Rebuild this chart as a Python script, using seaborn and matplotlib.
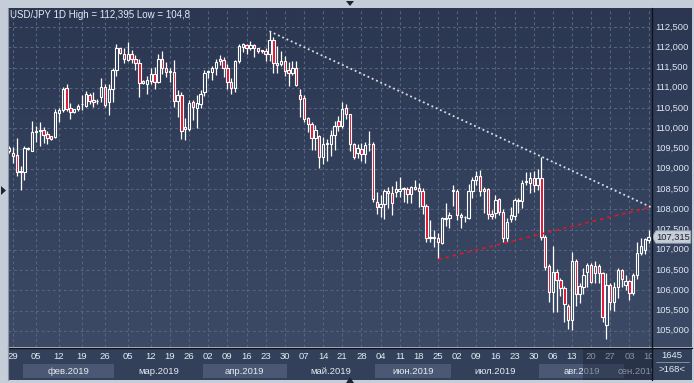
import numpy as np
import pandas as pd
import matplotlib
matplotlib.use('Agg')
import matplotlib.pyplot as plt
from matplotlib.colors import LinearSegmentedColormap
from matplotlib.patches import Rectangle, Polygon
import seaborn as sns

# ---------------- data ----------------
opens = [109.45, 109.38, 109.34, 108.95, 108.92, 109.49, 109.45, 109.90, 109.93, 109.96,
         109.85, 109.80, 109.78, 110.38, 110.45, 111.00, 110.50, 110.39, 110.47, 110.59,
         110.56, 110.82, 110.69, 110.67, 110.76, 111.02, 110.66, 110.98, 111.45, 111.97,
         111.83, 111.68, 111.84, 111.72, 111.62, 111.12, 111.09, 111.17, 111.34, 111.15,
         111.70, 111.48, 111.42, 111.39, 110.68, 110.82, 109.98, 109.98, 110.66, 110.51,
         110.61, 110.90, 111.38, 111.38, 111.48, 111.66, 111.68, 111.48, 111.13, 111.00,
         111.66, 112.01, 112.05, 111.99, 112.05, 111.97, 111.92, 111.91, 111.84, 112.19,
         111.62, 111.58, 111.66, 111.43, 111.37, 111.50, 110.81, 110.74, 110.25, 110.11,
         109.75, 109.80, 109.28, 109.60, 109.60, 109.83, 110.18, 110.06, 110.49, 110.34,
         109.60, 109.39, 109.50, 109.36, 109.60, 109.61, 108.17, 108.05, 108.12, 108.45,
         108.39, 108.43, 108.45, 108.49, 108.50, 108.37, 108.54, 108.52, 108.45, 108.08,
         107.29, 107.31, 107.28, 107.17, 107.79, 107.78, 108.47, 108.45, 107.87, 107.82,
         107.79, 108.46, 108.71, 108.83, 108.50, 108.50, 107.88, 107.90, 108.25, 107.92,
         107.28, 107.76, 107.83, 108.23, 108.21, 108.68, 108.65, 108.76, 108.60, 108.76,
         107.32, 106.60, 105.95, 106.46, 106.25, 106.06, 105.61, 105.27, 106.72, 105.91,
         106.09, 106.46, 106.62, 106.43, 106.60, 106.42, 105.13, 106.13, 105.72, 106.09,
         106.50, 106.13, 106.23, 105.93, 106.38, 106.91, 107.00, 107.25]
highs = [109.55, 109.53, 109.75, 109.07, 109.57, 109.53, 110.18, 110.06, 110.16, 110.04,
         109.92, 109.81, 110.47, 110.50, 111.02, 111.10, 110.63, 110.48, 110.61, 110.82,
         110.93, 110.86, 110.89, 110.71, 111.23, 111.10, 111.10, 111.48, 112.07, 111.98,
         111.99, 112.12, 111.94, 111.80, 111.70, 111.19, 111.29, 111.50, 111.52, 111.84,
         111.90, 111.64, 111.48, 111.68, 110.94, 110.90, 110.25, 110.70, 110.70, 110.82,
         110.94, 111.43, 111.45, 111.54, 111.70, 111.80, 111.75, 111.58, 111.25, 111.68,
         112.07, 112.10, 112.07, 112.15, 112.07, 111.98, 111.94, 111.97, 112.395, 112.25,
         112.02, 111.90, 111.78, 111.64, 111.66, 111.66, 110.97, 110.82, 110.29, 110.16,
         110.08, 109.84, 109.79, 109.73, 109.96, 110.19, 110.30, 110.64, 110.59, 110.35,
         109.63, 109.61, 109.63, 109.67, 109.92, 109.65, 108.43, 108.35, 108.49, 108.56,
         108.57, 108.70, 108.79, 108.56, 108.54, 108.58, 108.72, 108.64, 108.52, 108.13,
         107.73, 107.49, 107.41, 107.82, 108.16, 107.94, 108.60, 108.49, 107.91, 107.83,
         108.62, 108.79, 108.95, 108.97, 108.56, 108.52, 107.98, 108.35, 108.27, 108.00,
         107.78, 108.05, 108.29, 108.27, 108.71, 108.93, 108.93, 108.94, 108.99, 109.30,
         107.36, 106.64, 107.09, 106.52, 106.31, 106.11, 105.65, 106.95, 106.76, 106.17,
         106.54, 106.68, 106.68, 106.71, 106.66, 106.46, 106.42, 106.17, 106.21, 106.54,
         106.52, 106.38, 106.25, 106.42, 107.20, 107.28, 107.28, 107.49]
lows = [109.38, 109.13, 108.81, 108.48, 108.71, 109.47, 109.43, 109.65, 109.55, 109.63,
        109.61, 109.70, 109.75, 110.16, 110.41, 110.43, 110.24, 110.38, 110.43, 110.45,
        110.52, 110.61, 110.52, 110.60, 110.65, 110.52, 110.33, 110.66, 111.29, 111.84,
        111.61, 111.66, 111.60, 111.43, 110.78, 111.09, 110.84, 111.10, 110.98, 111.12,
        111.35, 111.27, 111.15, 110.52, 110.29, 109.74, 109.72, 109.92, 110.20, 110.00,
        110.49, 110.80, 111.25, 111.19, 111.31, 111.55, 111.27, 110.98, 110.84, 110.90,
        111.60, 111.89, 111.84, 111.93, 111.76, 111.86, 111.87, 111.66, 111.66, 111.37,
        111.37, 111.53, 111.29, 111.05, 111.31, 111.05, 110.27, 110.16, 109.90, 109.47,
        109.47, 109.02, 109.12, 109.18, 109.31, 109.46, 109.92, 110.00, 110.22, 109.45,
        109.24, 109.26, 109.20, 109.15, 109.45, 108.19, 107.88, 107.82, 107.77, 108.02,
        107.86, 108.31, 108.31, 108.19, 108.15, 108.15, 108.47, 108.06, 107.88, 107.20,
        107.20, 107.08, 106.76, 107.14, 107.59, 107.53, 108.08, 107.73, 107.53, 107.69,
        107.76, 108.27, 108.60, 108.33, 107.90, 107.77, 107.75, 107.78, 107.85, 107.20,
        107.20, 107.68, 107.73, 107.90, 108.02, 108.60, 108.41, 108.43, 108.47, 107.24,
        106.50, 105.72, 105.47, 105.47, 105.86, 105.22, 105.04, 105.02, 105.60, 105.68,
        105.91, 106.09, 106.17, 106.19, 106.17, 105.22, 104.80, 105.51, 105.50, 105.80,
        106.09, 106.00, 105.76, 105.88, 106.29, 106.87, 106.90, 107.16]
closes = [109.50, 109.32, 108.93, 108.93, 109.52, 109.51, 109.90, 109.92, 109.96, 109.84,
          109.77, 109.73, 110.39, 110.46, 110.98, 110.47, 110.40, 110.47, 110.55, 110.60,
          110.84, 110.68, 110.66, 110.68, 111.01, 110.57, 110.98, 111.45, 111.97, 111.87,
          111.70, 111.84, 111.70, 111.61, 111.11, 111.16, 111.19, 111.34, 111.15, 111.70,
          111.48, 111.40, 111.38, 110.68, 110.82, 109.93, 110.04, 110.63, 110.52, 110.63,
          110.84, 111.37, 111.41, 111.48, 111.64, 111.70, 111.48, 111.13, 111.00, 111.66,
          112.02, 112.07, 111.99, 112.05, 111.97, 111.91, 111.90, 111.84, 112.19, 111.61,
          111.57, 111.66, 111.42, 111.37, 111.50, 111.08, 110.73, 110.23, 110.10, 109.75,
          109.96, 109.29, 109.61, 109.63, 109.83, 110.06, 110.06, 110.47, 110.34, 109.61,
          109.30, 109.51, 109.36, 109.59, 109.61, 108.25, 108.05, 108.12, 108.45, 108.39,
          108.16, 108.49, 108.50, 108.52, 108.37, 108.54, 108.51, 108.45, 108.08, 107.28,
          107.32, 107.28, 107.18, 107.78, 107.77, 107.86, 108.45, 107.87, 107.80, 107.80,
          108.46, 108.71, 108.83, 108.45, 108.46, 107.88, 107.84, 108.23, 107.92, 107.28,
          107.68, 107.86, 108.23, 108.21, 108.66, 108.70, 108.76, 108.60, 108.76, 107.32,
          106.57, 105.95, 106.44, 106.25, 106.05, 105.65, 105.27, 106.72, 105.91, 106.11,
          106.38, 106.62, 106.21, 106.60, 106.42, 105.35, 106.13, 105.72, 106.09, 106.50,
          106.29, 106.23, 105.94, 106.38, 106.91, 107.10, 107.26, 107.315]

# daily candles (with Sunday sessions in Feb / early March)
bdays = pd.bdate_range('2019-01-28', '2019-09-10')
sundays = pd.date_range('2019-02-03', '2019-03-10', freq='W-SUN')
dates = bdays.union(sundays)

month_names = ['янв', 'фев', 'мар', 'апр', 'май', 'июн', 'июл', 'авг', 'сен']
price_ticks = np.arange(105.0, 112.51, 0.5)
last_price = 107.315
title = 'USD/JPY 1D High = 112,395 Low = 104,8'
corner_top = '1645'
corner_bottom = '>168<'
# trend-line anchors: (candle index, price)
resist_idx, resist_px = [68, 139], [112.395, 109.30]
support_idx, support_px = [112, 139], [106.76, 107.39]

# ---------------- style ----------------
sns.set_style('white')
plt.rcParams['font.family'] = ['Liberation Sans', 'DejaVu Sans']

W, H = 694, 383
fig = plt.figure(figsize=(W / 100, H / 100), dpi=100)
fig.patch.set_facecolor('#c5cdd9')


def fa(x0, y0, x1, y1):
    return [x0 / W, 1 - y1 / H, (x1 - x0) / W, (y1 - y0) / H]


PX0, PX1, PY0, PY1 = 8, 652, 8, 347
PPU = 40.5          # pixels per yen
ymax = 112.5 + (27 - PY0) / PPU
ymin = 112.5 - (PY1 - 27) / PPU
n = len(dates)
xmin, xmax = -0.3, n - 0.1

bg_cmap = LinearSegmentedColormap.from_list('bg', ['#3c4a66', '#2b3751'])
grid_c = '#56657f'
red_c = '#e0102e'
txt_c = '#e4eaf3'

# ---------------- main price panel ----------------
ax = fig.add_axes(fa(PX0, PY0, PX1, PY1))
grad = np.linspace(0, 1, 256).reshape(-1, 1)
ax.imshow(grad, extent=[xmin, xmax, ymin, ymax], origin='lower', aspect='auto',
          cmap=bg_cmap, zorder=0)
ax.set_xlim(xmin, xmax)
ax.set_ylim(ymin, ymax)
ax.set_xticks([])
ax.set_yticks([])
for s in ax.spines.values():
    s.set_visible(False)

for p in price_ticks:
    ax.axhline(p, color=grid_c, lw=0.8, ls=(0, (2.5, 2.5)), zorder=1)
tick_idx = [i for i, d in enumerate(dates) if d.dayofweek == 1]
for i in tick_idx:
    ax.axvline(i, color=grid_c, lw=0.8, ls=(0, (2.5, 2.5)), zorder=1)

x = np.arange(n)
o, h, l, c = map(np.array, (opens, highs, lows, closes))
bull = c >= o
ax.vlines(x, l, h, color='white', lw=0.9, zorder=3)
lo = np.minimum(o, c)
hh = np.maximum(np.abs(c - o), 0.012)
mid = lo + hh / 2
fills = [bg_cmap((m - ymin) / (ymax - ymin)) if b else red_c for m, b in zip(mid, bull)]
ax.bar(x, hh, bottom=lo, width=0.62, color=fills, edgecolor='white', linewidth=0.8, zorder=4)

# trend lines extended to the right edge
def extend(idx, px):
    slope = (px[1] - px[0]) / (idx[1] - idx[0])
    xs = np.array([idx[0], xmax])
    return xs, px[0] + slope * (xs - idx[0])

rx, ry = extend(resist_idx, resist_px)
sx, sy = extend(support_idx, support_px)
sns.lineplot(x=rx, y=ry, ax=ax, color='#d9dee8', lw=1.3, linestyle=(0, (1, 1.6)), zorder=5)
sns.lineplot(x=sx, y=sy, ax=ax, color='#d5182a', lw=1.3, linestyle=(0, (2, 2.2)), zorder=5)
ax.set_xlim(xmin, xmax)
ax.set_ylim(ymin, ymax)
ax.set_xlabel('')
ax.set_ylabel('')

ax.text(2 / 644, 1 - 7.5 / 339, title, transform=ax.transAxes, color=txt_c,
        fontsize=7.0, ha='left', va='center', zorder=6)

# ---------------- right price scale ----------------
axr = fig.add_axes(fa(652, PY0, 692, PY1))
axr.imshow(grad, extent=[0, 1, ymin, ymax], origin='lower', aspect='auto', cmap=bg_cmap, zorder=0)
axr.set_xlim(0, 1)
axr.set_ylim(ymin, ymax)
axr.set_xticks([])
axr.set_yticks([])
for s in axr.spines.values():
    s.set_visible(False)
for p in price_ticks:
    lab = f'{int(p)},{int(round((p % 1) * 1000)):03d}'
    axr.text(0.07, p, lab, color='#dfe7f3', fontsize=6.7, ha='left', va='center')
tag_h = 6.2 / PPU
axr.add_patch(Polygon([(0.0, last_price), (0.1, last_price + tag_h), (0.97, last_price + tag_h),
                       (0.97, last_price - tag_h), (0.1, last_price - tag_h)],
                      closed=True, facecolor='#c8ced8', edgecolor='#9aa3b2', lw=0.6, zorder=5))
axr.text(0.54, last_price, f'{last_price:.3f}'.replace('.', ','), color='#1b2130',
         fontsize=6.7, ha='center', va='center', zorder=6)

# ---------------- date axis ----------------
axd = fig.add_axes(fa(PX0, 348, PX1, 380))
axd.set_facecolor('#33405a')
axd.set_xlim(xmin, xmax)
axd.set_ylim(0, 1)
axd.set_xticks([])
axd.set_yticks([])
for s in axd.spines.values():
    s.set_visible(False)
for i in tick_idx:
    axd.text(i, 0.72, dates[i].strftime('%d'), color=txt_c, fontsize=6.8,
             ha='center', va='center', clip_on=True)
months = dates.month
for m in sorted(set(months)):
    idx = np.where(months == m)[0]
    a, b = idx[0] - 0.5, min(idx[-1] + 0.5, xmax)
    if b - a < 5:
        continue
    if m % 2 == 0:
        axd.add_patch(Rectangle((a, 0.06), b - a, 0.44, facecolor='#4a5873',
                                edgecolor='none', zorder=0))
    axd.text((a + b) / 2, 0.28, f'{month_names[m - 1]}.2019', color=txt_c,
             fontsize=6.8, ha='center', va='center', clip_on=True, zorder=2)
ov0 = (583 - PX0) / (PX1 - PX0) * (xmax - xmin) + xmin
axd.add_patch(Rectangle((ov0, 0), xmax - ov0, 1, facecolor='#1c2538', alpha=0.45,
                        edgecolor='none', zorder=3))

# ---------------- corner box ----------------
axc = fig.add_axes(fa(652, 348, 692, 380))
axc.set_facecolor('#33405a')
axc.set_xlim(0, 1)
axc.set_ylim(0, 1)
axc.set_xticks([])
axc.set_yticks([])
for s in axc.spines.values():
    s.set_visible(False)
axc.text(0.5, 0.76, corner_top, color=txt_c, fontsize=6.8, ha='center', va='center')
axc.text(0.5, 0.33, corner_bottom, color=txt_c, fontsize=6.8, ha='center', va='center')
axc.plot([0.1, 0.92], [0.56, 0.56], color='#8e9ab0', lw=0.6)

# ---------------- frame lines & markers ----------------
fig.add_artist(plt.Line2D([652 / W, 652 / W], [1 - 380 / H, 1 - 8 / H], color='#0e131d', lw=1.0))
fig.add_artist(plt.Line2D([8 / W, 692 / W], [1 - 347.5 / H, 1 - 347.5 / H], color='#0e131d', lw=1.0))
fig.add_artist(plt.Line2D([7.5 / W, 7.5 / W], [1 - 380 / H, 1 - 8 / H], color='#8a94a6', lw=0.8))
tri_c = '#1d2432'
fig.add_artist(Polygon([(346 / W, 1 - 1 / H), (354 / W, 1 - 1 / H), (350 / W, 1 - 6 / H)],
                       closed=True, transform=fig.transFigure, facecolor=tri_c, edgecolor='none'))
fig.add_artist(Polygon([(346 / W, 1 - 383 / H), (354 / W, 1 - 383 / H), (350 / W, 1 - 377 / H)],
                       closed=True, transform=fig.transFigure, facecolor=tri_c, edgecolor='none'))
fig.add_artist(Polygon([(1 / W, 1 - 186 / H), (1 / W, 1 - 195 / H), (6 / W, 1 - 190.5 / H)],
                       closed=True, transform=fig.transFigure, facecolor=tri_c, edgecolor='none'))

fig.savefig('out.png', dpi=100, facecolor=fig.get_facecolor())
